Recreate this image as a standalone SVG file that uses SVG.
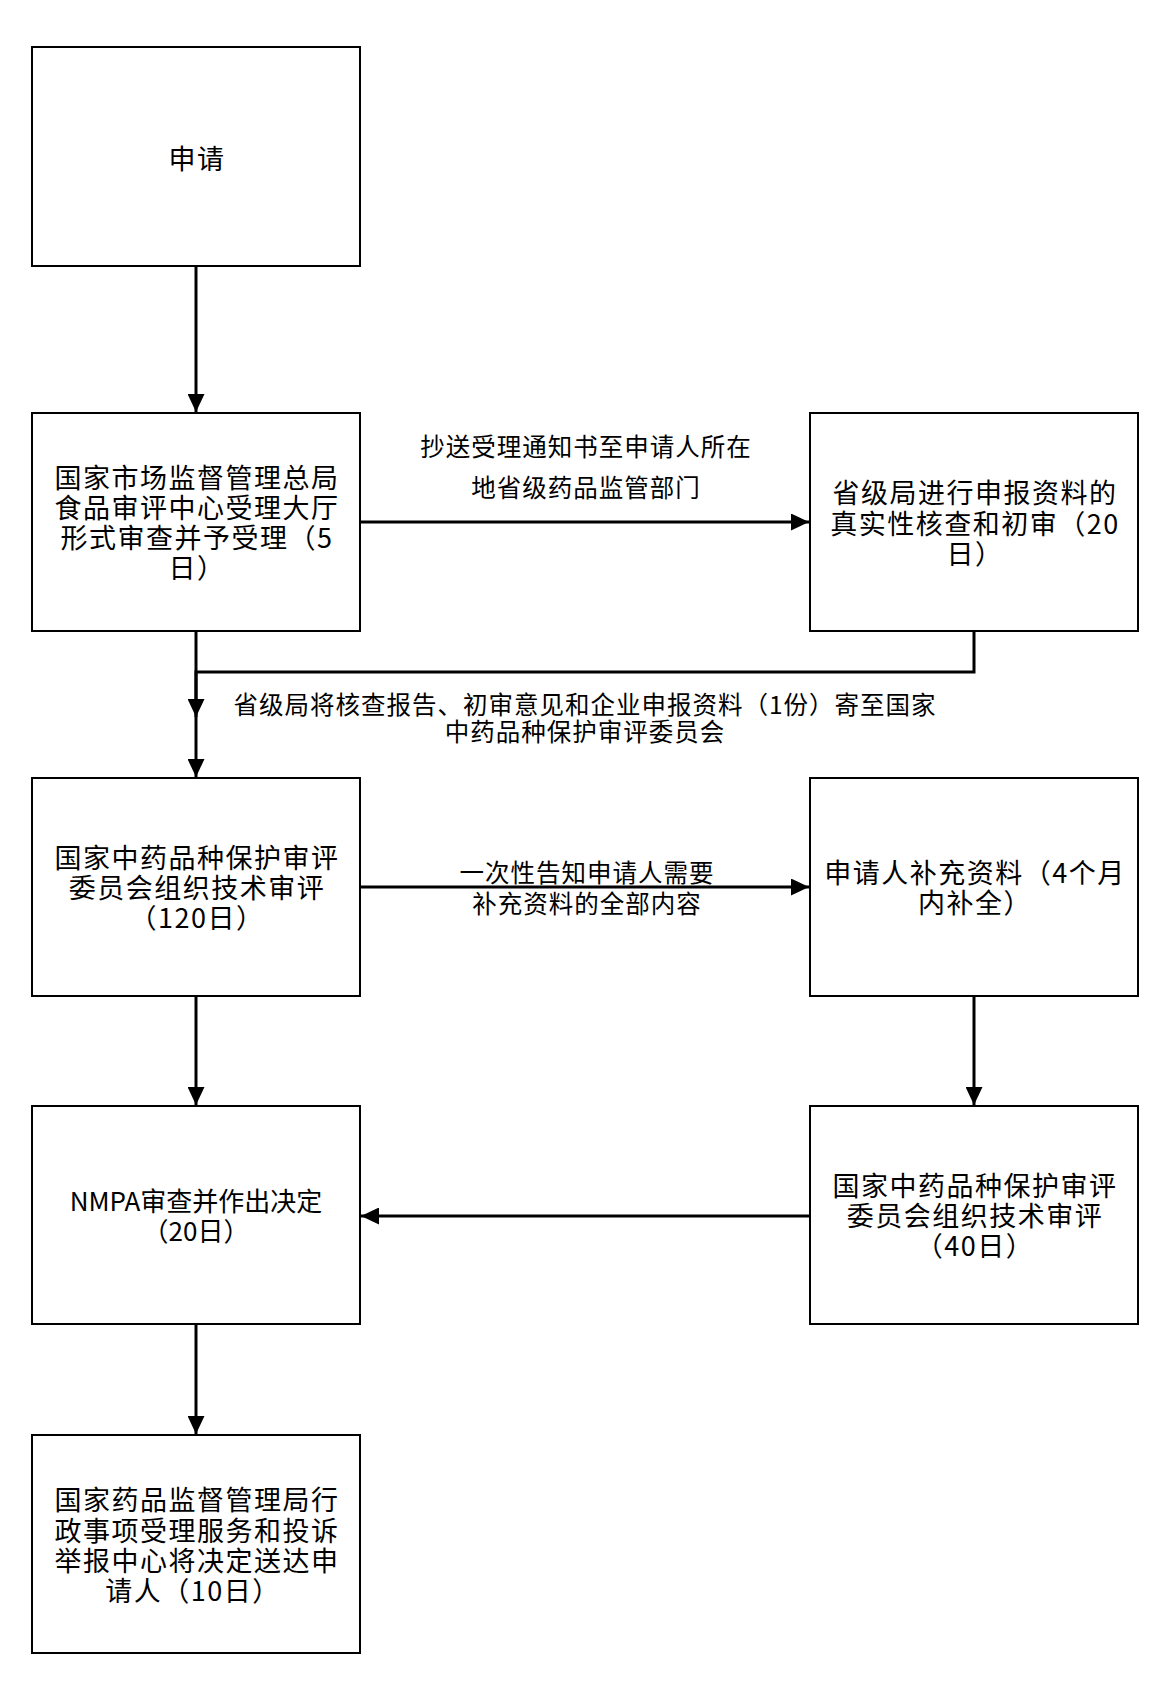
<svg xmlns="http://www.w3.org/2000/svg" width="1170" height="1694" viewBox="0 0 1170 1694">
<defs>
<style>
.box{fill:#fff;stroke:#000;stroke-width:2}
.t{font-family:"Noto Sans CJK SC","Noto Sans",sans-serif;font-size:27px;letter-spacing:1.5px;fill:#000;text-anchor:middle;dominant-baseline:central}
.l{font-family:"Noto Sans CJK SC","Noto Sans",sans-serif;font-size:24.5px;letter-spacing:1px;fill:#000;text-anchor:middle;dominant-baseline:central}
.c{fill:none;stroke:#000;stroke-width:3}
</style>
<marker id="ah" viewBox="0 0 18 17" refX="18" refY="8.5" markerWidth="18" markerHeight="17" markerUnits="userSpaceOnUse" orient="auto">
<path d="M0,0 L18,8.5 L0,17 Z" fill="#000"/>
</marker>
</defs>
<rect width="1170" height="1694" fill="#fff"/>
<g id="connectors">
<path class="c" d="M196,266 V412" marker-end="url(#ah)"/>
<path class="c" d="M360,522 H809" marker-end="url(#ah)"/>
<path class="c" d="M196,631 V777" marker-end="url(#ah)"/>
<path class="c" d="M974,631 V672 H196 V717" marker-end="url(#ah)"/>
<path class="c" d="M360,887 H809" marker-end="url(#ah)"/>
<path class="c" d="M974,996 V1105" marker-end="url(#ah)"/>
<path class="c" d="M196,996 V1105" marker-end="url(#ah)"/>
<path class="c" d="M810,1216 H361" marker-end="url(#ah)"/>
<path class="c" d="M196,1324 V1434" marker-end="url(#ah)"/>
<text class="l" x="586" y="445">抄送受理通知书至申请人所在</text>
<text class="l" x="586" y="486">地省级药品监管部门</text>
<text class="l" x="585" y="703">省级局将核查报告、初审意见和企业申报资料（1份）寄至国家</text>
<text class="l" x="585" y="730">中药品种保护审评委员会</text>
<text class="l" x="587" y="871">一次性告知申请人需要</text>
<text class="l" x="587" y="902">补充资料的全部内容</text>
</g>
<g id="n1">
<rect class="box" x="32" y="47" width="328" height="219"/>
<text class="t" x="197" y="157">申请</text>
</g>
<g id="n2">
<rect class="box" x="32" y="413" width="328" height="218"/>
<text class="t" x="197" y="476">国家市场监督管理总局</text>
<text class="t" x="197" y="506">食品审评中心受理大厅</text>
<text class="t" x="197" y="536">形式审查并予受理（5</text>
<text class="t" x="197" y="566">日）</text>
</g>
<g id="n3">
<rect class="box" x="810" y="413" width="328" height="218"/>
<text class="t" x="975" y="491">省级局进行申报资料的</text>
<text class="t" x="975" y="522">真实性核查和初审（20</text>
<text class="t" x="975" y="552">日）</text>
</g>
<g id="n4">
<rect class="box" x="32" y="778" width="328" height="218"/>
<text class="t" x="197" y="856">国家中药品种保护审评</text>
<text class="t" x="197" y="886">委员会组织技术审评</text>
<text class="t" x="197" y="916">（120日）</text>
</g>
<g id="n5">
<rect class="box" x="810" y="778" width="328" height="218"/>
<text class="t" x="975" y="871">申请人补充资料（4个月</text>
<text class="t" x="975" y="901">内补全）</text>
</g>
<g id="n6">
<rect class="box" x="810" y="1106" width="328" height="218"/>
<text class="t" x="975" y="1184">国家中药品种保护审评</text>
<text class="t" x="975" y="1214">委员会组织技术审评</text>
<text class="t" x="975" y="1244">（40日）</text>
</g>
<g id="n7">
<rect class="box" x="32" y="1106" width="328" height="218"/>
<text class="t" x="196" y="1199" style="font-size:26px;letter-spacing:0">NMPA审查并作出决定</text>
<text class="t" x="196" y="1229" style="font-size:26px;letter-spacing:0">（20日）</text>
</g>
<g id="n8">
<rect class="box" x="32" y="1435" width="328" height="218"/>
<text class="t" x="197" y="1498">国家药品监督管理局行</text>
<text class="t" x="197" y="1529">政事项受理服务和投诉</text>
<text class="t" x="197" y="1559">举报中心将决定送达申</text>
<text class="t" x="193" y="1589">请人（10日）</text>
</g>
</svg>
